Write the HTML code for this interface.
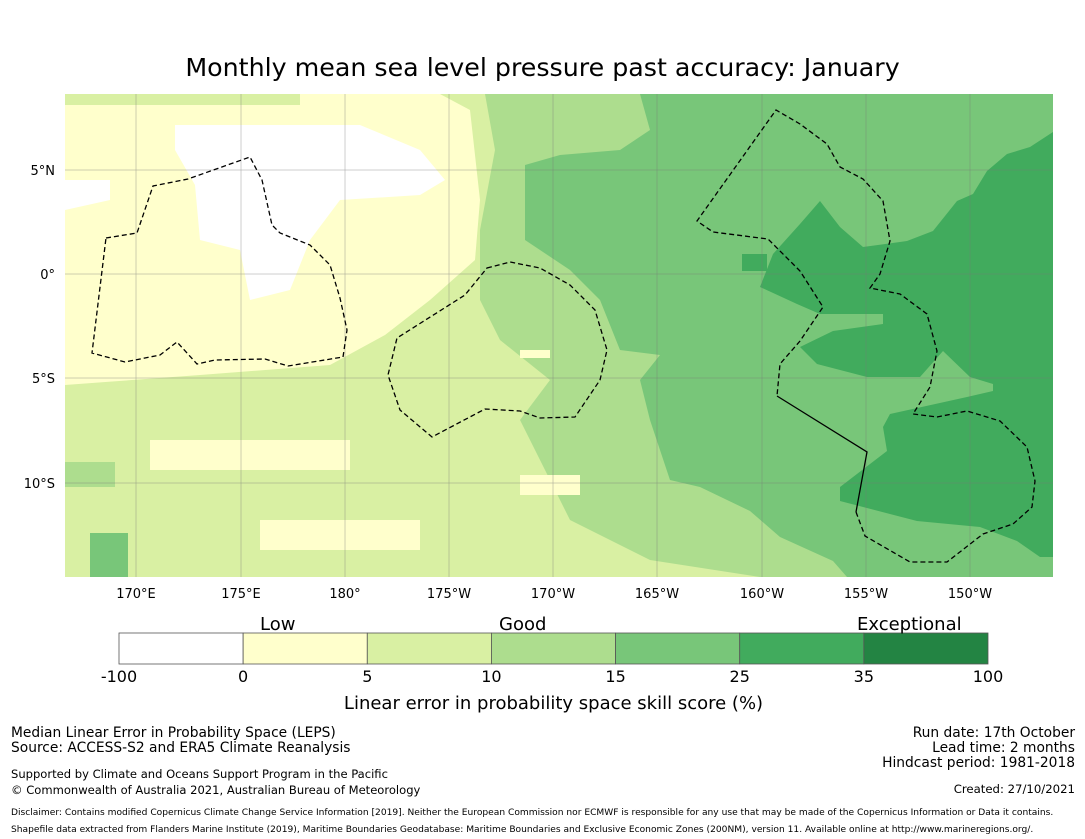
<!DOCTYPE html>
<html><head><meta charset="utf-8"><style>
body{margin:0;background:#fff;font-family:"DejaVu Sans","Liberation Sans",sans-serif;}
#wrap{position:relative;width:1085px;height:839px;overflow:hidden;}
.t{position:absolute;white-space:nowrap;color:#000;}
</style></head><body>
<div id="wrap">
<div class="t" style="left:0;width:1085px;text-align:center;top:53px;font-size:25.3px;font-family:'DejaVu Sans',sans-serif;">Monthly mean sea level pressure past accuracy: January</div>
<svg id="map" width="1085" height="839" style="position:absolute;left:0;top:0">
<defs><clipPath id="mc"><rect x="65" y="94" width="988" height="483"/></clipPath></defs>
<g clip-path="url(#mc)">
<rect x="65" y="94" width="988" height="483" fill="#d9f0a3"/>
<polygon fill="#addd8e" points="485,94 1053,94 1053,577 760,577 650,560 570,520 545,470 520,420 550,380 500,340 480,300 480,230 495,150"/>
<polygon fill="#78c679" points="640,94 1053,94 1053,577 847,577 833,561 780,537 750,511 700,487 670,480 650,420 640,380 660,355 620,350 600,300 570,270 525,240 525,165 560,155 620,150 650,130"/>
<polygon fill="#41ab5d" points="1053,132 1030,147 1007,154 987,171 973,194 957,201 933,231 907,241 863,247 840,227 820,201 800,224 773,254 760,287 797,304 820,314 883,314 883,324 833,331 800,347 817,364 867,377 920,377 943,351 970,377 993,384 993,391 967,397 890,414 883,427 887,451 840,487 840,501 917,521 980,527 1017,541 1040,557 1053,557"/>
<rect x="742" y="254" width="25" height="17" fill="#41ab5d"/>
<polygon fill="#ffffcc" points="65,105 300,105 300,94 440,94 470,110 480,200 475,260 430,300 385,335 330,365 200,375 65,385"/>
<rect x="150" y="440" width="200" height="30" fill="#ffffcc"/>
<rect x="260" y="520" width="160" height="30" fill="#ffffcc"/>
<rect x="520" y="475" width="60" height="20" fill="#ffffcc"/>
<rect x="520" y="350" width="30" height="8" fill="#ffffcc"/>
<polygon fill="#ffffff" points="175,125 360,125 420,150 445,180 420,195 340,200 310,240 290,290 250,300 240,250 200,240 195,185 175,150"/>
<polygon fill="#ffffff" points="65,180 110,180 110,200 65,210"/>
<rect x="90" y="533" width="38" height="44" fill="#78c679"/>
<rect x="65" y="462" width="50" height="25" fill="#addd8e"/>
</g>
<g stroke="#777" stroke-width="0.5" opacity="0.7" clip-path="url(#mc)">
<line x1="136" y1="94" x2="136" y2="577"/><line x1="241" y1="94" x2="241" y2="577"/><line x1="345" y1="94" x2="345" y2="577"/><line x1="449" y1="94" x2="449" y2="577"/><line x1="553" y1="94" x2="553" y2="577"/><line x1="657" y1="94" x2="657" y2="577"/><line x1="762" y1="94" x2="762" y2="577"/><line x1="866" y1="94" x2="866" y2="577"/><line x1="970" y1="94" x2="970" y2="577"/>
<line x1="65" y1="170" x2="1053" y2="170"/><line x1="65" y1="274" x2="1053" y2="274"/><line x1="65" y1="378" x2="1053" y2="378"/><line x1="65" y1="483" x2="1053" y2="483"/>
</g>
<g fill="none" stroke="#000" stroke-width="1.3">
<polygon stroke-dasharray="5,3" points="106,238 137,233 153,186 188,179 250,157 262,180 272,225 280,233 310,245 330,265 340,298 347,330 343,357 288,366 265,359 215,360 197,364 177,342 160,355 125,362 92,353"/>
<polygon stroke-dasharray="5,3" points="487,268 510,262 540,268 570,285 595,310 607,350 600,380 575,417 540,418 520,411 485,409 432,437 400,410 388,375 397,338 465,295"/>
<polyline stroke-dasharray="5,3" points="856,512 865,536 910,562 947,562 983,534 1013,524 1032,507 1035,481 1027,447 1000,421 967,411 937,417 913,414 930,387 937,351 927,314 900,294 870,288 880,274 890,241 883,201 863,179 840,167 827,144 800,124 776,110 697,221 713,232 768,239 800,271 823,307 800,341 780,364 777,396"/>
<polyline points="777,396 867,452 856,512"/>
</g>
<g font-size="13" text-anchor="middle" font-family="DejaVu Sans,sans-serif">
<text x="136" y="598">170°E</text><text x="241" y="598">175°E</text><text x="345" y="598">180°</text><text x="449" y="598">175°W</text><text x="553" y="598">170°W</text><text x="657" y="598">165°W</text><text x="762" y="598">160°W</text><text x="866" y="598">155°W</text><text x="970" y="598">150°W</text>
</g>
<g font-size="13" text-anchor="end" font-family="DejaVu Sans,sans-serif">
<text x="55" y="175">5°N</text><text x="55" y="279">0°</text><text x="55" y="383">5°S</text><text x="55" y="488">10°S</text>
</g>
<g id="cbar"></g>
</svg>
<div class="t" style="left:260px;top:614px;font-size:18px;">Low</div>
<div class="t" style="left:499px;top:614px;font-size:18px;">Good</div>
<div class="t" style="left:857px;top:614px;font-size:18px;">Exceptional</div>
<div class="t" style="left:0;width:1107px;text-align:center;top:693px;font-size:18px;">Linear error in probability space skill score (%)</div>
<div class="t" style="left:11px;top:726px;font-size:13.8px;line-height:15px;">Median Linear Error in Probability Space (LEPS)<br>Source: ACCESS-S2 and ERA5 Climate Reanalysis</div>
<div class="t" style="left:11px;top:766px;font-size:11.55px;line-height:16px;">Supported by Climate and Oceans Support Program in the Pacific<br>© Commonwealth of Australia 2021, Australian Bureau of Meteorology</div>
<div class="t" style="right:10px;top:726px;font-size:13.8px;line-height:15px;text-align:right;">Run date: 17th October<br>Lead time: 2 months<br>Hindcast period: 1981-2018</div>
<div class="t" style="right:10px;top:782px;font-size:11.7px;">Created: 27/10/2021</div>
<div class="t" style="left:11px;top:805px;font-size:9.1px;line-height:17px;">Disclaimer: Contains modified Copernicus Climate Change Service Information [2019]. Neither the European Commission nor ECMWF is responsible for any use that may be made of the Copernicus Information or Data it contains.<br>Shapefile data extracted from Flanders Marine Institute (2019), Maritime Boundaries Geodatabase: Maritime Boundaries and Exclusive Economic Zones (200NM), version 11. Available online at http://www.marineregions.org/.</div>
</div>
<script>
const cbTicks = ['-100','0','5','10','15','25','35','100'];
const cbColors = ['#ffffff','#ffffcc','#d9f0a3','#addd8e','#78c679','#41ab5d','#238443'];
const g = document.getElementById('cbar');
const NS = 'http://www.w3.org/2000/svg';
const x0 = 119, x1 = 988, y0 = 633, h = 31;
const w = (x1 - x0) / cbColors.length;
cbColors.forEach((c, i) => {
  const r = document.createElementNS(NS, 'rect');
  r.setAttribute('x', x0 + i * w); r.setAttribute('y', y0);
  r.setAttribute('width', w); r.setAttribute('height', h);
  r.setAttribute('fill', c); r.setAttribute('stroke', '#555'); r.setAttribute('stroke-width', '0.8');
  
  
  g.appendChild(r);
});
cbTicks.forEach((t, i) => {
  const tx = document.createElementNS(NS, 'text');
  tx.setAttribute('x', x0 + i * w); tx.setAttribute('y', y0 + h + 18);
  tx.setAttribute('text-anchor', 'middle'); tx.setAttribute('font-size', '16');
  tx.setAttribute('font-family', 'DejaVu Sans,sans-serif');
  tx.textContent = t;
  
  
  g.appendChild(tx);
});
</script>
</body></html>
